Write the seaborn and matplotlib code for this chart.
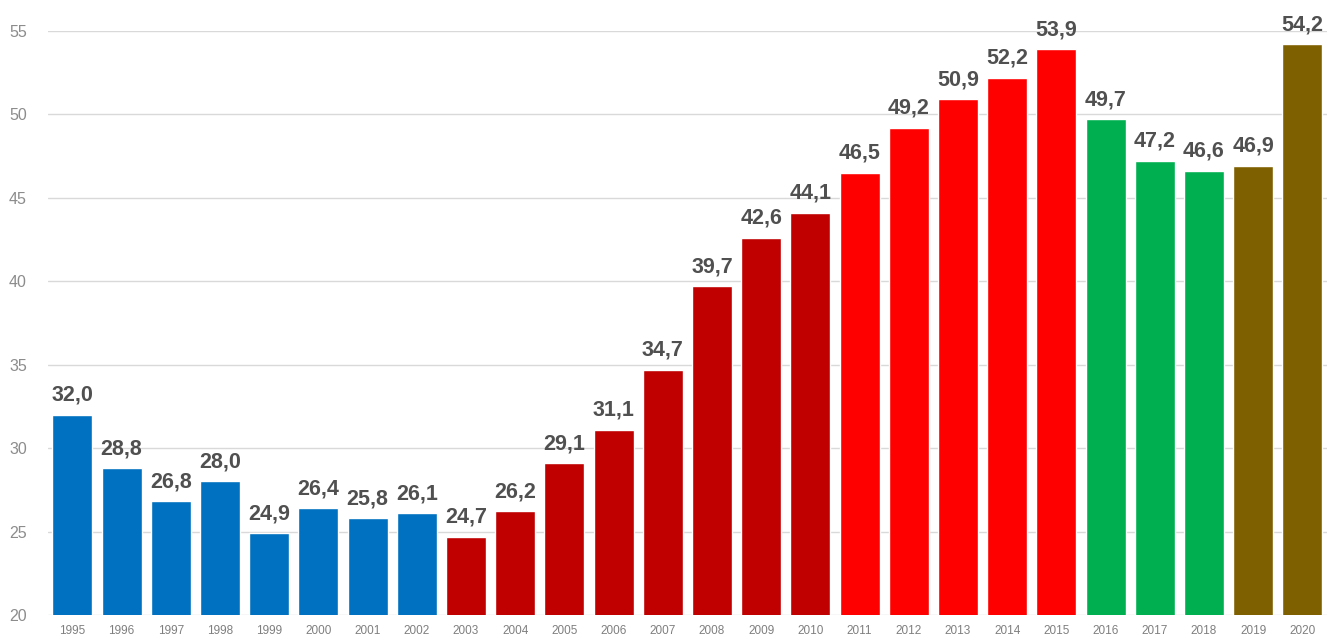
import matplotlib
matplotlib.use("Agg")
import matplotlib.pyplot as plt
import seaborn as sns
import pandas as pd

years = [str(y) for y in range(1995, 2021)]
values = [32.0, 28.8, 26.8, 28.0, 24.9, 26.4, 25.8, 26.1,
          24.7, 26.2, 29.1, 31.1, 34.7, 39.7, 42.6, 44.1,
          46.5, 49.2, 50.9, 52.2, 53.9,
          49.7, 47.2, 46.6,
          46.9, 54.2]
groups = (["g1"] * 8 + ["g2"] * 8 + ["g3"] * 5 + ["g4"] * 3 + ["g5"] * 2)
palette = {"g1": "#0070C0", "g2": "#C00000", "g3": "#FF0000",
           "g4": "#00B050", "g5": "#7F6000"}
yticks = [20, 25, 30, 35, 40, 45, 50, 55]

df = pd.DataFrame({"year": years, "value": values, "group": groups})

sns.set_theme(style="white")
plt.rcParams["font.family"] = ["Liberation Sans", "DejaVu Sans"]

fig = plt.figure(figsize=(13.27, 6.41), dpi=100)
ax = fig.add_axes([0.036, 0.0406, 0.964, 0.9113])

sns.barplot(data=df, x="year", y="value", hue="group", palette=palette,
            dodge=False, legend=False, width=0.81, ax=ax, saturation=1)

ax.set_ylim(20, 55)
ax.set_xlim(-0.5, len(years) - 0.5)
ax.set_yticks(yticks)
ax.set_yticklabels([str(t) for t in yticks], color="#8c8c8c", fontsize=11.5)
ax.tick_params(axis="x", labelsize=8.5, labelcolor="#7f7f7f", length=0, pad=7)
ax.tick_params(axis="y", length=0, pad=15)
ax.grid(axis="y", color="#d9d9d9", linewidth=1)
ax.set_axisbelow(True)
for s in ax.spines.values():
    s.set_visible(False)
ax.set_xlabel("")
ax.set_ylabel("")

for i, v in enumerate(values):
    ax.annotate(f"{v:.1f}".replace(".", ","), (i, v), xytext=(0, 6.5),
                textcoords="offset points", ha="center", va="bottom",
                fontsize=15.5, fontweight="bold", color="#505050",
                annotation_clip=False)

fig.savefig("out.png", dpi=100)
